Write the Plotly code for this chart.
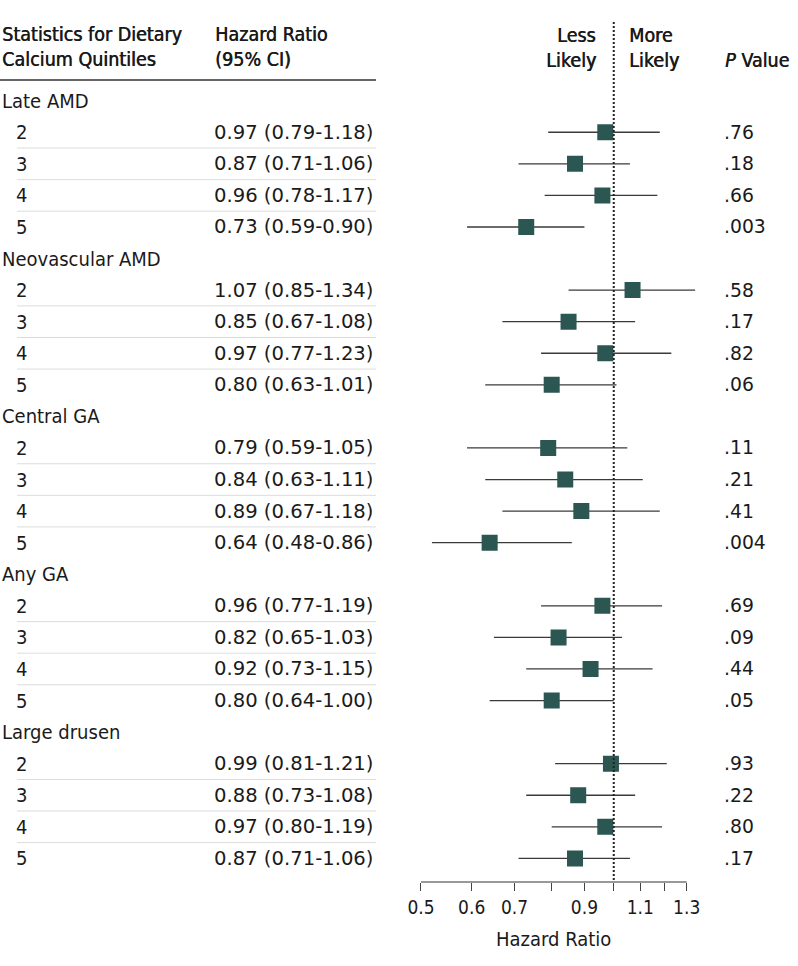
import math
import plotly.graph_objects as go

# ---------------- data ----------------
groups = ["Late AMD", "Neovascular AMD", "Central GA", "Any GA", "Large drusen"]
quintiles = ["2", "3", "4", "5"]
hr = [[0.97, 0.87, 0.96, 0.73],
      [1.07, 0.85, 0.97, 0.80],
      [0.79, 0.84, 0.89, 0.64],
      [0.96, 0.82, 0.92, 0.80],
      [0.99, 0.88, 0.97, 0.87]]
ci_low = [[0.79, 0.71, 0.78, 0.59],
          [0.85, 0.67, 0.77, 0.63],
          [0.59, 0.63, 0.67, 0.52],
          [0.77, 0.65, 0.73, 0.64],
          [0.81, 0.73, 0.80, 0.71]]
ci_high = [[1.18, 1.06, 1.17, 0.90],
           [1.34, 1.08, 1.23, 1.01],
           [1.05, 1.11, 1.18, 0.86],
           [1.19, 1.03, 1.15, 1.00],
           [1.21, 1.08, 1.19, 1.06]]
hr_labels = [["0.97 (0.79-1.18)", "0.87 (0.71-1.06)", "0.96 (0.78-1.17)", "0.73 (0.59-0.90)"],
             ["1.07 (0.85-1.34)", "0.85 (0.67-1.08)", "0.97 (0.77-1.23)", "0.80 (0.63-1.01)"],
             ["0.79 (0.59-1.05)", "0.84 (0.63-1.11)", "0.89 (0.67-1.18)", "0.64 (0.48-0.86)"],
             ["0.96 (0.77-1.19)", "0.82 (0.65-1.03)", "0.92 (0.73-1.15)", "0.80 (0.64-1.00)"],
             ["0.99 (0.81-1.21)", "0.88 (0.73-1.08)", "0.97 (0.80-1.19)", "0.87 (0.71-1.06)"]]
p_values = [[".76", ".18", ".66", ".003"],
            [".58", ".17", ".82", ".06"],
            [".11", ".21", ".41", ".004"],
            [".69", ".09", ".44", ".05"],
            [".93", ".22", ".80", ".17"]]
tick_vals = [0.5, 0.6, 0.7, 0.8, 0.9, 1.0, 1.1, 1.2, 1.3]
tick_text = ["0.5", "0.6", "0.7", "", "0.9", "", "1.1", "", "1.3"]
ref_value = 1.0

# ---------------- layout geometry (pixels) ----------------
W, H = 798, 966
PLOT_BOTTOM = 882          # pixel of the x-axis line
ROW0, ROWSTEP = 100.7, 31.57
AX_L, AX_R = 421.0, 686.7  # pixels of 0.5 and 1.3
k = (AX_R - AX_L) / math.log(1.3 / 0.5)   # px per ln unit
x_lo, x_hi = 0.42, 1.45

def xpx(v):
    return AX_L + k * math.log(v / 0.5)

def row_of_px(py):
    return (py - ROW0) / ROWSTEP

def paper_x(px):
    return px / W

y_top = row_of_px(0)
y_bot = row_of_px(PLOT_BOTTOM)

FONT = "DejaVu Sans Condensed, DejaVu Sans, sans-serif"
NUMFONT = "DejaVu Sans, sans-serif"
TXT = "#1a1a1a"
FS = 20

fig = go.Figure()

# CI lines
xs, ys = [], []
mx, my = [], []
for g in range(len(groups)):
    for q in range(len(quintiles)):
        r = g * 5 + 1 + q
        xs += [ci_low[g][q], ci_high[g][q], None]
        ys += [r, r, None]
        mx.append(hr[g][q])
        my.append(r)
fig.add_trace(go.Scatter(x=xs, y=ys, mode="lines",
                         line=dict(color="#3a3a3a", width=1.3),
                         hoverinfo="skip", showlegend=False))
fig.add_trace(go.Scatter(x=mx, y=my, mode="markers",
                         marker=dict(symbol="square", size=16, color="#2b5652",
                                     line=dict(width=0)),
                         showlegend=False))
# reference dotted line
fig.add_trace(go.Scatter(x=[ref_value, ref_value], y=[row_of_px(22), y_bot + 0.5],
                         mode="lines",
                         line=dict(color="#222222", width=2, dash="2px,2px"),
                         hoverinfo="skip", showlegend=False))

ann = []
def add_text(text, px, y, anchor="left", yref="y", size=FS, family=FONT, shadow=None):
    f = dict(family=family, size=size, color=TXT)
    if shadow:
        f["shadow"] = shadow
    ann.append(dict(text=text, x=paper_x(px), xref="paper", y=y, yref=yref,
                    xanchor=anchor, yanchor="middle", showarrow=False, font=f))

shapes = []
for g, name in enumerate(groups):
    add_text(name, 0, g * 5)
    for q, ql in enumerate(quintiles):
        r = g * 5 + 1 + q
        add_text(ql, 14, r)
        add_text(hr_labels[g][q], 212, r, family=NUMFONT, size=19.6)
        add_text(p_values[g][q], 722, r, family=NUMFONT, size=18.8)
        if q < len(quintiles) - 1:
            shapes.append(dict(type="line", xref="paper", yref="y",
                               x0=paper_x(17), x1=paper_x(376), y0=r + 0.5, y1=r + 0.5,
                               line=dict(color="#dcdcdc", width=1)))

# headers
HS = "0.6px 0px 0px #1a1a1a"
HF = 19.5
add_text("Statistics for Dietary", 0, row_of_px(34.5), size=HF, shadow=HS)
add_text("Calcium Quintiles", 0, row_of_px(59), size=HF, shadow=HS)
add_text("Hazard Ratio", 213, row_of_px(34.5), size=HF, shadow=HS)
add_text("(95% CI)", 213, row_of_px(59), size=HF, shadow=HS)
add_text("Less", 598, row_of_px(35.3), anchor="right", size=HF, shadow=HS)
add_text("Likely", 598, row_of_px(60.8), anchor="right", size=HF, shadow=HS)
add_text("More", 627, row_of_px(35.3), size=HF, shadow=HS)
add_text("Likely", 627, row_of_px(60.8), size=HF, shadow=HS)
add_text("<i>P</i> Value", 723, row_of_px(60.8), size=HF, shadow=HS)

# header rule
shapes.append(dict(type="line", xref="paper", yref="y", x0=paper_x(0), x1=paper_x(376),
                   y0=row_of_px(80), y1=row_of_px(80),
                   line=dict(color="#333333", width=1.5)))
# x axis baseline (0.5 to 1.3)
shapes.append(dict(type="line", xref="x", yref="paper", x0=tick_vals[0], x1=tick_vals[-1],
                   y0=0, y1=0, line=dict(color="#333333", width=1)))

# axis title
ann.append(dict(text="Hazard Ratio", x=math.log10(math.sqrt(tick_vals[0] * tick_vals[-1])),
                xref="x", y=-(939 - PLOT_BOTTOM) / PLOT_BOTTOM, yref="paper",
                xanchor="center", yanchor="middle", showarrow=False,
                font=dict(family=FONT, size=FS, color=TXT)))

fig.update_layout(
    width=W, height=H,
    margin=dict(l=0, r=0, t=0, b=H - PLOT_BOTTOM),
    paper_bgcolor="white", plot_bgcolor="rgba(0,0,0,0)",
    showlegend=False,
    xaxis=dict(type="log", range=[math.log10(x_lo), math.log10(x_hi)],
               domain=[paper_x(xpx(x_lo)), paper_x(xpx(x_hi))],
               tickvals=tick_vals, ticktext=tick_text,
               ticks="outside", ticklen=8, tickcolor="#444444", tickwidth=1,
               showgrid=False, zeroline=False, showline=False,
               tickfont=dict(family=FONT, size=19, color=TXT)),
    yaxis=dict(range=[y_bot, y_top], visible=False, showgrid=False, zeroline=False),
    annotations=ann, shapes=shapes,
)

fig.write_html("out.html", config={"displayModeBar": False},
               post_script="document.body.style.margin='0';")
